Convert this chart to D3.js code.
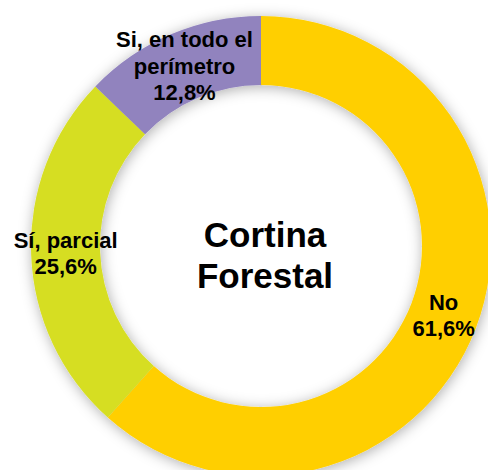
<!DOCTYPE html>
<html>
<head>
<meta charset="utf-8">
<script src="https://d3js.org/d3.v7.min.js"></script>
<style>
  html, body { margin:0; padding:0; background:#fff; }
  svg { display:block; }
</style>
</head>
<body>
<div id="chart"></div>
<script>
// data, clockwise from 12 o'clock
var categories = [["No"], ["Sí, parcial"], ["Si, en todo el", "perímetro"]];
var values = [61.6, 25.6, 12.8];
var colors = ["#ffcf00", "#d6de22", "#9183be"];
var titleLines = ["Cortina", "Forestal"];

var width = 488, height = 470;
var cx = 261, cy = 246;
var outerR = 230, innerR = 161;

var svg = d3.select("#chart").append("svg")
    .attr("width", width)
    .attr("height", height);

// soft shadow round the ring
var defs = svg.append("defs");
var filter = defs.append("filter")
    .attr("id", "ringShadow")
    .attr("x", "-20%").attr("y", "-20%")
    .attr("width", "140%").attr("height", "140%");
filter.append("feDropShadow")
    .attr("dx", 1).attr("dy", 2)
    .attr("stdDeviation", 7)
    .attr("flood-color", "#000")
    .attr("flood-opacity", 0.32);

var g = svg.append("g")
    .attr("transform", "translate(" + cx + "," + cy + ")");

var pie = d3.pie().sort(null).value(function(d){ return d; });
var arc = d3.arc().innerRadius(innerR).outerRadius(outerR);
var arcs = pie(values);

g.append("g")
    .attr("filter", "url(#ringShadow)")
    .selectAll("path")
    .data(arcs)
    .enter().append("path")
    .attr("d", arc)
    .attr("fill", function(d, i){ return colors[i]; });

// slice labels, centred on each arc's centroid
var lineH = 26.5;
var fmt = function(v){ return v.toFixed(1).replace(".", ",") + "%"; };

arcs.forEach(function(d, i){
    var lines = categories[i].concat([fmt(values[i])]);
    var c = arc.centroid(d);
    var t = g.append("text")
        .attr("text-anchor", "middle")
        .style("font-family", "'Liberation Sans', Arial, sans-serif")
        .style("font-weight", "bold")
        .style("font-size", "22px")
        .style("fill", "#000");
    var y0 = c[1] - (lines.length - 1) * lineH / 2 + 7.5;
    lines.forEach(function(s, k){
        t.append("tspan")
            .attr("x", c[0])
            .attr("y", y0 + k * lineH)
            .text(s);
    });
});

// centre title
var title = g.append("text")
    .attr("text-anchor", "middle")
    .style("font-family", "'Liberation Sans', Arial, sans-serif")
    .style("font-weight", "bold")
    .style("font-size", "35px")
    .style("fill", "#000");
titleLines.forEach(function(s, k){
    title.append("tspan")
        .attr("x", 4)
        .attr("y", 1 + k * 41)
        .text(s);
});
</script>
</body>
</html>
